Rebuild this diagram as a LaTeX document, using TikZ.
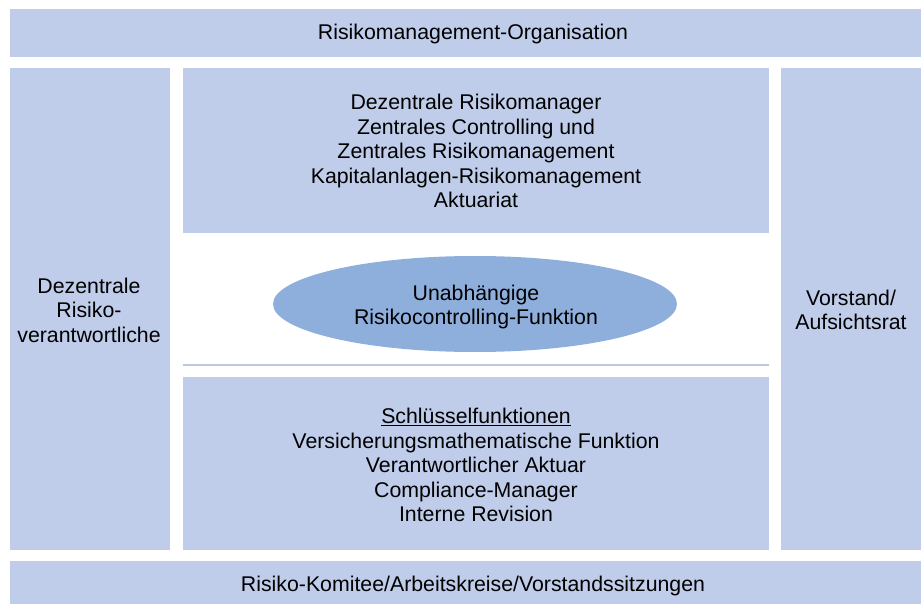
\documentclass[tikz,border=0pt]{standalone}
\usepackage{fontspec}
\setmainfont{Liberation Sans}
\definecolor{hellblau}{HTML}{BFCDEA}
\definecolor{mittelblau}{HTML}{8EAEDC}
\definecolor{linie}{HTML}{BCC8E2}
\tikzset{
  feld/.style={fill=hellblau},
  txt/.style={align=center,inner sep=0pt,font=\fontsize{21.3}{24.5}\selectfont},
  oval/.style={ellipse,fill=mittelblau,minimum width=404pt,minimum height=96pt}
}
\usetikzlibrary{shapes.geometric}
\begin{document}
\begin{tikzpicture}[x=1pt,y=-1pt]
\useasboundingbox (0,0) rectangle (921,604);
% Balken oben und unten
\fill[feld] (10,9) rectangle (921,57);
\fill[feld] (10,561) rectangle (921,604);
% Spalten links und rechts
\fill[feld] (10,68) rectangle (170,550);
\fill[feld] (781,68) rectangle (921,550);
% mittlere Felder
\fill[feld] (183,68) rectangle (769,233);
\fill[feld] (183,377) rectangle (769,550);
\draw[linie,line width=1.2pt] (183,365)--(769,365);
% Ellipse
\node[oval] (rcf) at (475,304) {};
% Texte
\node[txt] (orga) at (473,34) {Risikomanagement-Organisation};
\node[txt] (komitee) at (473,586) {Risiko-Komitee/Arbeitskreise/Vorstandssitzungen};
\node[txt] (dezentral) at (89,310) {Dezentrale\\Risiko-\\verantwortliche};
\node[txt] (vorstand) at (851,310) {Vorstand/\\Aufsichtsrat};
\node[txt] (zentral) at (476,151) {Dezentrale Risikomanager\\Zentrales Controlling und\\Zentrales Risikomanagement\\Kapitalanlagen-Risikomanagement\\Aktuariat};
\node[txt] (unabh) at (476,307) {Unabhängige\\Risikocontrolling-Funktion};
\node[txt] (schluessel) at (476,465) {\underline{Schlüsselfunktionen}\\Versicherungsmathematische Funktion\\Verantwortlicher Aktuar\\Compliance-Manager\\Interne Revision};
\end{tikzpicture}
\end{document}
